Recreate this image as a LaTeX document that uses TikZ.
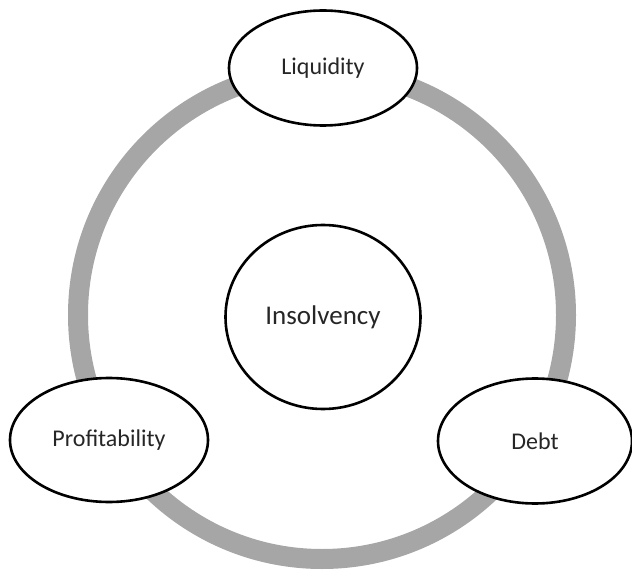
\documentclass[tikz,border=0pt]{standalone}
\usepackage{fontspec}
\setmainfont{Carlito}
\usetikzlibrary{shapes.geometric}
\definecolor{ringgray}{HTML}{A6A6A6}
\begin{document}
\begin{tikzpicture}[x=1pt,y=-1pt,
  bubble/.style={draw=black, line width=2.6pt, fill=white, ellipse, inner sep=0pt, text=black!85},
  ring/.style={draw=ringgray, line width=20pt}]
\useasboundingbox (0,0) rectangle (632,572);
\coordinate (c) at (322,315);
\draw[ring] (c) circle[radius=244];
\node[bubble, minimum width=195pt, minimum height=184pt, font=\fontsize{27}{32}\selectfont] (ins) at (323,317) {Insolvency};
\node[bubble, minimum width=188pt, minimum height=115pt, font=\fontsize{24}{28}\selectfont] (liq) at (323,68) {Liquidity};
\node[bubble, minimum width=198pt, minimum height=124pt, font=\fontsize{24}{28}\selectfont] (pro) at (109,440) {Profitability};
\node[bubble, minimum width=194pt, minimum height=125pt, font=\fontsize{24}{28}\selectfont] (debt) at (535,441) {Debt};
\end{tikzpicture}
\end{document}
